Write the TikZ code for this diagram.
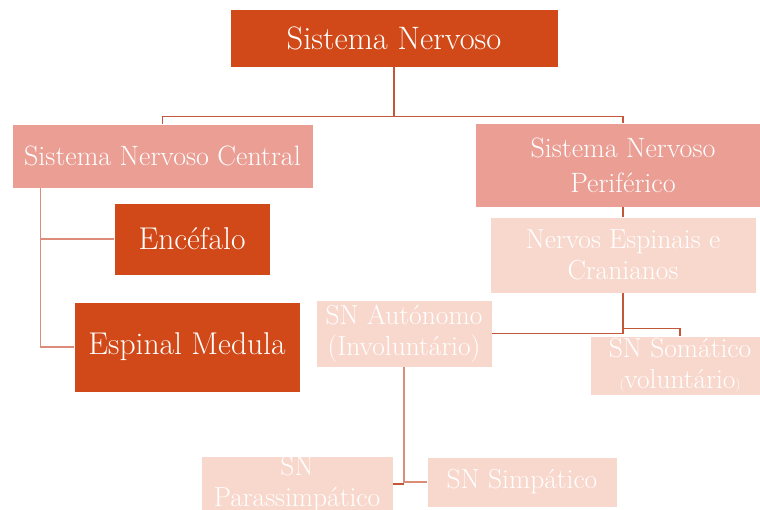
\documentclass[tikz,border=0pt]{standalone}
\usetikzlibrary{calc}
\definecolor{dk}{RGB}{209,73,24}
\definecolor{md}{RGB}{234,158,148}
\definecolor{lt}{RGB}{248,216,205}
\definecolor{ln}{RGB}{196,86,58}
\definecolor{lnl}{RGB}{222,140,122}
\begin{document}
\begin{tikzpicture}[x=1pt,y=-1pt,
 box/.style={rectangle, text=white, align=center, inner sep=0pt, draw=white, line width=0.6pt},
 dkbox/.style={box, fill=dk, font=\fontsize{31.5}{36}\selectfont},
 mdbox/.style={box, fill=md, font=\fontsize{28}{35}\selectfont},
 ltbox/.style={box, fill=lt, font=\fontsize{27.5}{31}\selectfont},
 conn/.style={draw=ln, line width=1.2pt},
 connl/.style={draw=lnl, line width=1.2pt}]
\useasboundingbox (0,0) rectangle (760,509);
\clip (0,0) rectangle (760,509);
\node[dkbox, minimum width=328pt, minimum height=58pt, font=\fontsize{32.5}{38}\selectfont] (top) at (394,38) {Sistema Nervoso};
\node[mdbox, minimum width=301pt, minimum height=64pt] (snc) at (162.5,156) {Sistema Nervoso Central};
\node[mdbox, minimum width=296pt, minimum height=84pt] (snp) at (623,165) {Sistema Nervoso\\Periférico};
\node[dkbox, minimum width=156pt, minimum height=72pt] (enc) at (192,239) {Encéfalo};
\node[dkbox, minimum width=226pt, minimum height=90pt] (esp) at (187,347) {Espinal Medula};
\node[ltbox, minimum width=266pt, minimum height=76pt] (nerv) at (623,255) {Nervos Espinais e\\Cranianos};
\node[ltbox, minimum width=176pt, minimum height=67pt] (aut) at (404,333.5) {SN Autónomo\\(Involuntário)};
\node[ltbox, minimum width=180pt, minimum height=59pt] (som) at (680,365.5) {SN Somático\\{\fontsize{13}{13}\selectfont(}voluntário{\fontsize{13}{13}\selectfont)}};
\node[ltbox, minimum width=192pt, minimum height=54pt] (para) at (297,484) {SN\\Parassimpático};
\node[ltbox, minimum width=190pt, minimum height=50pt] (simp) at (522,482) {SN Simpático};
% connectors
\coordinate (j1) at ($(top.south)+(0,49)$);
\draw[conn] (top.south) -- (j1);
\draw[conn] (snc.north) |- (j1) -| (snp.north);
\draw[connl] ([xshift=29pt]snc.south west) |- (enc.west);
\draw[connl] ([xshift=29pt]snc.south west) |- (esp.west);
\draw[conn] (snp.south) -- (nerv.north);
\draw[conn] (nerv.south) |- (aut.east);
\draw[conn] ($(nerv.south)+(0,35)$) -| (som.north);
\draw[connl] (aut.south) |- (simp.west);
\draw[conn] (aut.south |- para.east) -- (para.east);
\end{tikzpicture}
\end{document}
